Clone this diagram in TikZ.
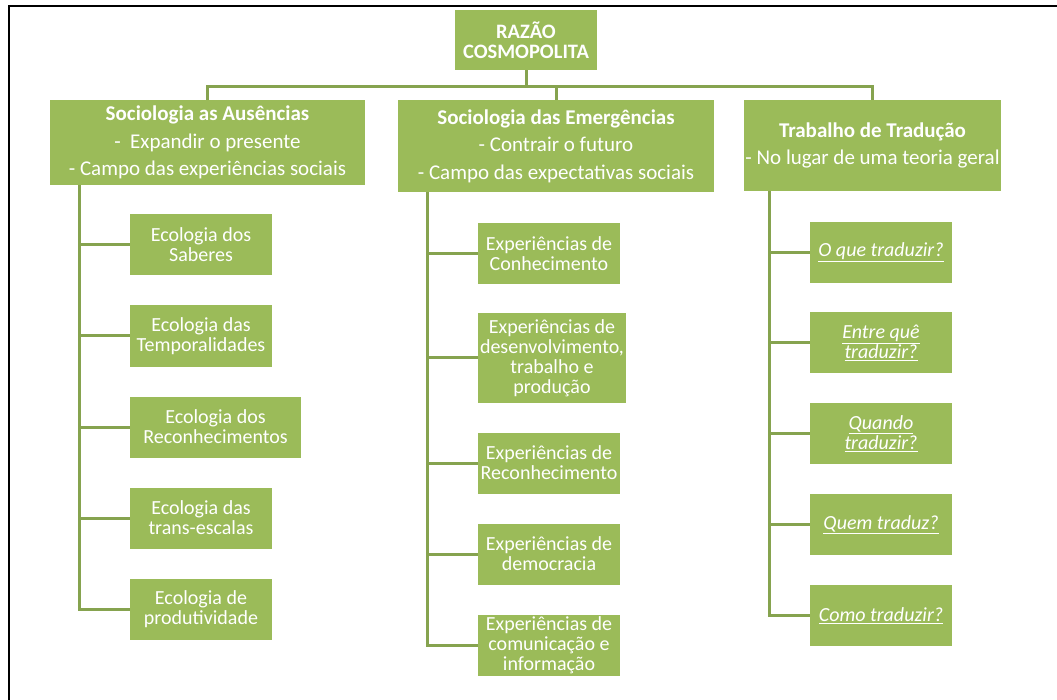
\documentclass[tikz,border=0pt]{standalone}
\usepackage{fontspec}
\setmainfont{Carlito}
\definecolor{leaf}{HTML}{9BBB59}
\definecolor{twig}{HTML}{86A34F}
\tikzset{
  hb/.style={fill=leaf, text=white, align=center, inner sep=1pt,
             font=\fontsize{21}{27.5}\selectfont},                    % head box
  lb/.style={fill=leaf, text=white, align=center, inner sep=1pt,
             minimum width=142pt, minimum height=61pt,
             font=\fontsize{20}{20}\selectfont},                      % leaf box
  ce/.style={draw=twig, line width=3pt},                               % connector
  qu/.style={lb, font=\fontsize{20}{20}\selectfont\itshape},           % question box
}
\newcommand{\ul}[1]{\underline{#1}}

\begin{document}
\begin{tikzpicture}[x=1pt,y=-1pt]
  \useasboundingbox (0,0) rectangle (1057,700);
  \draw[line width=2pt] (9,700) -- (9,6) -- (1057,6);
  \node[hb, minimum width=142pt, minimum height=60pt, font=\fontsize{20.5}{20}\selectfont\bfseries]
    (rc) at (526,40) {RAZÃO\\COSMOPOLITA};
  \node[hb, minimum width=315pt, minimum height=85pt] (sa) at (207.5,142.5)
    {\textbf{Sociologia as Ausências}\\-\ \ Expandir o presente\\- Campo das experiências sociais};
  \node[hb, minimum width=316pt, minimum height=92pt] (se) at (556,146)
    {\textbf{Sociologia das Emergências}\\- Contrair o futuro\\- Campo das expectativas sociais};
  \node[hb, minimum width=255pt, minimum height=91pt] (tt) at (872.5,145.5)
    {\textbf{Trabalho de Tradução}\\- No lugar de uma teoria geral};
  \foreach \n in {sa,se,tt} \draw[ce] (rc.south) -- ++(0,16) -| (\n.north);
  % first column
  \node[lb] (a1) at (201,245)   {Ecologia dos\\Saberes};
  \node[lb] (a2) at (201,336)   {Ecologia das\\Temporalidades};
  \node[lb, minimum width=171pt] (a3) at (215.5,427) {Ecologia dos\\Reconhecimentos};
  \node[lb] (a4) at (201,518)   {Ecologia das\\trans-escalas};
  \node[lb] (a5) at (201,609.5) {Ecologia de\\produtividade};
  \foreach \n in {a1,a2,a3,a4,a5} \draw[ce] ([xshift=30pt]sa.south west) |- (\n.west);
  % second column
  \node[lb] (b1) at (549,253.5) {Experiências de\\Conhecimento};
  \node[lb, minimum width=148pt, minimum height=90pt] (b2) at (552,358)
    {Experiências de\\desenvolvimento,\\trabalho e\\produção};
  \node[lb] (b3) at (549,463)   {Experiências de\\Reconhecimento};
  \node[lb] (b4) at (549,554)   {Experiências de\\democracia};
  \node[lb] (b5) at (549,645.5) {Experiências de\\comunicação e\\informação};
  \foreach \n in {b1,b2,b3,b4,b5} \draw[ce] ([xshift=30pt]se.south west) |- (\n.west);
  % third column
  \node[qu] (c1) at (881,252.5) {\ul{O que traduzir?}};
  \node[qu] (c2) at (881,342.5) {\ul{Entre quê}\\\ul{traduzir?}};
  \node[qu] (c3) at (881,433.5) {\ul{Quando}\\\ul{traduzir?}};
  \node[qu] (c4) at (881,524.5) {\ul{Quem traduz?}};
  \node[qu] (c5) at (881,615.5) {\ul{Como traduzir?}};
  \foreach \n in {c1,c2,c3,c4,c5} \draw[ce] ([xshift=25pt]tt.south west) |- (\n.west);
\end{tikzpicture}
\end{document}
